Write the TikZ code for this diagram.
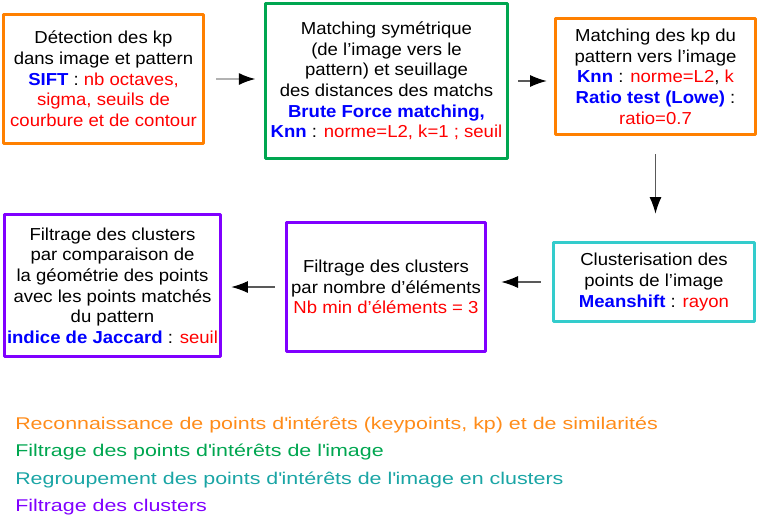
\documentclass[tikz,border=0pt]{standalone}
\usepackage{fontspec}
\setmainfont[FakeStretch=1.07]{Liberation Sans}
\newfontfamily\legendfont[FakeStretch=1.26]{Liberation Sans}
\usetikzlibrary{arrows.meta}
\definecolor{orangebox}{HTML}{FF8000}
\definecolor{greenbox}{HTML}{00A650}
\definecolor{cyanbox}{HTML}{33CCCC}
\definecolor{violetbox}{HTML}{8000FF}
\definecolor{orangetext}{HTML}{FF8C1A}
\definecolor{tealtext}{HTML}{1AA5A5}
\newcommand{\algo}[1]{\textcolor{blue}{\textbf{#1}}}
\newcommand{\param}[1]{\textcolor{red}{#1}}

\begin{document}
\begin{tikzpicture}[x=0.75pt,y=-0.75pt,line join=round,
  etape/.style={draw,line width=2pt,fill=white,align=center,inner sep=0pt,
    font=\fontsize{13}{15.5}\selectfont},
  fleche/.style={draw=black!65,line width=0.8pt,-{Latex[color=black,length=12.5pt,width=9pt]}},
  legende/.style={anchor=base west,inner sep=0pt,font=\legendfont\fontsize{12.75}{15}\selectfont}]
  \useasboundingbox (0,0) rectangle (758,525);
  % premiere ligne
  \node[etape,draw=orangebox,minimum width=150pt,minimum height=96.75pt] (detect) at (103.5,79)
    {Détection des kp\\dans image et pattern\\\algo{SIFT} : \param{nb octaves,}\\\param{sigma, seuils de}\\\param{courbure et de contour}};
  \node[etape,draw=greenbox,minimum width=181.5pt,minimum height=116.25pt] (match) at (386.5,81)
    {Matching symétrique\\(de l’image vers le\\pattern) et seuillage\\des distances des matchs\\\algo{Brute Force matching,}\\\algo{Knn} : \param{norme=L2, k=1 ; seuil}};
  \node[etape,draw=orangebox,minimum width=150pt,minimum height=87pt] (ratio) at (655.5,76.5)
    {Matching des kp du\\pattern vers l’image\\\algo{Knn} : \param{norme=L2}, \param{k}\\\algo{Ratio test (Lowe)} :\\\param{ratio=0.7}};
  % deuxieme ligne
  \node[etape,draw=cyanbox,minimum width=150.75pt,minimum height=59.25pt] (clust) at (654,282)
    {Clusterisation des\\points de l’image\\\algo{Meanshift} : \param{rayon}};
  \node[etape,draw=violetbox,minimum width=149.25pt,minimum height=96.75pt] (nbfilt) at (386,287)
    {Filtrage des clusters\\par nombre d’éléments\\\param{Nb min d’éléments = 3}};
  \node[etape,draw=violetbox,minimum width=162pt,minimum height=106.5pt] (jaccard) at (112.5,285.5)
    {Filtrage des clusters\\par comparaison de\\la géométrie des points\\avec les points matchés\\du pattern\\\algo{indice de Jaccard} : \param{seuil}};
  % fleches
  \draw[fleche,draw=black!30,line width=1.5pt,shorten <=8.6pt,shorten >=6.4pt] (detect.east) -- (detect.east -| match.west);
  \draw[fleche,shorten <=7pt,shorten >=5.6pt] (match.east) -- (match.east -| ratio.west);
  \draw[fleche,shorten <=13.9pt,shorten >=20.6pt] (ratio.south) -- (ratio.south |- clust.north);
  \draw[fleche,shorten <=8.6pt,shorten >=10.9pt] (clust.west) -- (clust.west -| nbfilt.east);
  \draw[fleche,shorten <=7.9pt,shorten >=7.1pt] (nbfilt.west) -- (nbfilt.west -| jaccard.east);
  % legende
  \foreach \y/\col/\txt [count=\i] in {429/orangetext/{Reconnaissance de points d\textquotesingle intérêts (keypoints, kp) et de similarités},
      456/greenbox/{Filtrage des points d\textquotesingle intérêts de l\textquotesingle image},
      484/tealtext/{Regroupement des points d\textquotesingle intérêts de l\textquotesingle image en clusters},
      511/violetbox/{Filtrage des clusters}}
    \node[legende,text=\col] (leg\i) at (15,\y) {\txt};
\end{tikzpicture}
\end{document}
